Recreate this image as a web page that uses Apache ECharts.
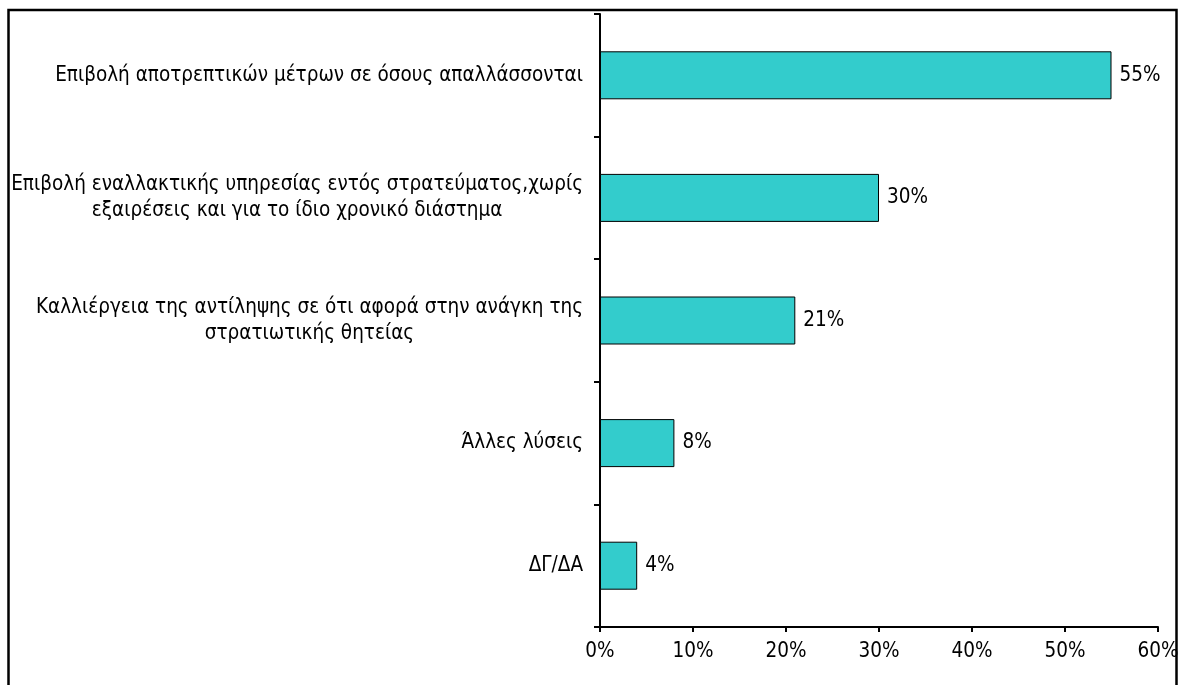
<!DOCTYPE html>
<html>
<head>
<meta charset="utf-8">
<script src="https://cdn.jsdelivr.net/npm/echarts@6/dist/echarts.min.js"></script>
<style>
html,body{margin:0;padding:0;background:#fff;}
#chart{width:1182px;height:685px;}
</style>
</head>
<body>
<div id="chart"></div>
<script>
const categories = [
  "Επιβολή αποτρεπτικών μέτρων σε όσους απαλλάσσονται",
  "Επιβολή εναλλακτικής υπηρεσίας εντός στρατεύματος,χωρίς\nεξαιρέσεις και για το ίδιο χρονικό διάστημα",
  "Καλλιέργεια της αντίληψης σε ότι αφορά στην ανάγκη της\nστρατιωτικής θητείας",
  "Άλλες λύσεις",
  "ΔΓ/ΔΑ"
];
const values = [55, 30, 21, 8, 4];
const xTicks = [0, 10, 20, 30, 40, 50, 60];

const FONT = "'DejaVu Sans Condensed', 'DejaVu Sans'";
const FS = 20.5;

const chart = echarts.init(document.getElementById('chart'), null, {renderer: 'canvas'});
chart.setOption({
  animation: false,
  backgroundColor: '#ffffff',
  textStyle: {fontFamily: FONT},
  graphic: [{
    type: 'rect',
    shape: {x: 8.5, y: 10, width: 1168, height: 720},
    style: {fill: 'none', stroke: '#000', lineWidth: 2.5},
    silent: true
  }],
  grid: {left: 600, right: 24, top: 14, bottom: 58, containLabel: false},
  xAxis: {
    type: 'value',
    min: xTicks[0],
    max: xTicks[xTicks.length - 1],
    interval: 10,
    splitLine: {show: false},
    axisLine: {show: true, lineStyle: {color: '#000', width: 2}},
    axisTick: {show: true, length: 5, lineStyle: {color: '#000', width: 2}},
    axisLabel: {
      margin: 14, color: '#000', fontFamily: FONT, fontSize: FS,
      formatter: v => v + '%'
    }
  },
  yAxis: {
    type: 'category',
    inverse: true,
    data: categories,
    axisLine: {show: true, lineStyle: {color: '#000', width: 2}},
    axisTick: {show: true, length: 6, lineStyle: {color: '#000', width: 2}},
    axisLabel: {
      margin: 17, color: '#000', fontFamily: FONT, fontSize: FS, align: 'right',
      formatter: v => v.split('\n').map(l => '{c|' + l + '}').join('\n'),
      rich: {c: {align: 'center', fontFamily: FONT, fontSize: FS, color: '#000', lineHeight: 26}}
    }
  },
  series: [{
    type: 'bar',
    data: values,
    barWidth: 48,
    itemStyle: {color: '#33CCCC', borderColor: '#000', borderWidth: 1},
    label: {
      show: true, position: 'right', distance: 8,
      color: '#000', fontFamily: FONT, fontSize: FS,
      formatter: p => p.value + '%'
    }
  }]
});
</script>
</body>
</html>
